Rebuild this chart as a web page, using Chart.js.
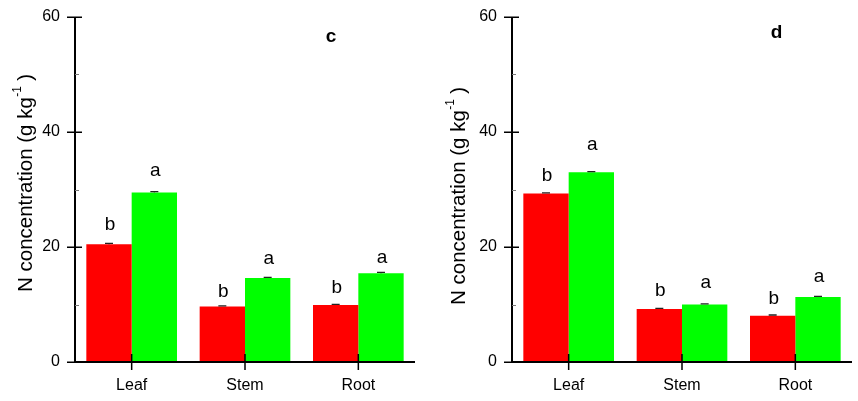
<!DOCTYPE html>
<html>
<head>
<meta charset="utf-8">
<script src="https://cdn.jsdelivr.net/npm/chart.js@4/dist/chart.umd.min.js"></script>
<style>
  html, body { margin: 0; padding: 0; background: #fff; }
  #wrap { position: relative; width: 858px; height: 401px; }
  canvas { position: absolute; top: 0; }
  #panelC { left: 0; }
  #panelD { left: 429px; }
</style>
</head>
<body>
<div id="wrap">
  <canvas id="panelC" width="429" height="401"></canvas>
  <canvas id="panelD" width="429" height="401"></canvas>
</div>
<script>
// Plant organs on the category axis
const categories = ['Leaf', 'Stem', 'Root'];
const yTickValues = [0, 20, 40, 60];
const yMinorValues = [10, 30, 50];

// Panel c: N concentration (g kg-1)
const cRed = [20.5, 9.65, 9.9];
const cGreen = [29.5, 14.6, 15.45];
const cRedErr = [0.12, 0.12, 0.12];
const cGreenErr = [0.12, 0.12, 0.12];
const cRedLetters = ['b', 'b', 'b'];
const cGreenLetters = ['a', 'a', 'a'];
const cRedLetterAt = [23.8, 12.2, 12.9];
const cGreenLetterAt = [33.2, 17.9, 18.2];

// Panel d: N concentration (g kg-1)
const dRed = [29.3, 9.2, 8.05];
const dGreen = [33.0, 10.0, 11.3];
const dRedErr = [0.12, 0.12, 0.12];
const dGreenErr = [0.12, 0.12, 0.12];
const dRedLetters = ['b', 'b', 'b'];
const dGreenLetters = ['a', 'a', 'a'];
const dRedLetterAt = [32.4, 12.4, 11.0];
const dGreenLetterAt = [37.8, 13.7, 14.8];

const FONT = '"Liberation Sans", Arial, sans-serif';

// Axis frame, crossing ticks, error caps, significance letters, titles
const panelDecor = {
  id: 'panelDecor',
  afterDatasetsDraw(chart, args, opts) {
    const ctx = chart.ctx;
    const { left, right, top, bottom } = chart.chartArea;
    const xs = chart.scales.x, ys = chart.scales.y;
    ctx.save();

    // error bars
    chart.data.datasets.forEach((ds, di) => {
      const meta = chart.getDatasetMeta(di);
      meta.data.forEach((bar, i) => {
        const v = ds.data[i], e = ds.errors[i];
        const yHi = ys.getPixelForValue(v + e);
        const yV = ys.getPixelForValue(v);
        ctx.strokeStyle = '#222';
        ctx.lineWidth = 1.3;
        ctx.beginPath();
        ctx.moveTo(bar.x, yV);
        ctx.lineTo(bar.x, yHi);
        ctx.moveTo(bar.x - 4, yHi);
        ctx.lineTo(bar.x + 4, yHi);
        ctx.stroke();
      });
    });

    // significance letters
    ctx.fillStyle = '#000';
    ctx.font = '19px ' + FONT;
    ctx.textAlign = 'center';
    ctx.textBaseline = 'middle';
    chart.data.datasets.forEach((ds, di) => {
      const meta = chart.getDatasetMeta(di);
      meta.data.forEach((bar, i) => {
        ctx.fillText(ds.letters[i], bar.x + 1, ys.getPixelForValue(ds.letterAt[i]));
      });
    });

    // axis lines
    ctx.strokeStyle = '#000';
    ctx.lineWidth = 2;
    ctx.beginPath();
    ctx.moveTo(left, top);
    ctx.lineTo(left, bottom + 1);
    ctx.moveTo(left - 1, bottom);
    ctx.lineTo(right, bottom);
    ctx.stroke();

    // major y ticks crossing the axis
    ctx.lineWidth = 1.5;
    ctx.beginPath();
    yTickValues.forEach(v => {
      const p = Math.round(ys.getPixelForValue(v)) + 0.25;
      ctx.moveTo(left - 8, p);
      ctx.lineTo(left + 7, p);
    });
    ctx.stroke();

    // minor y ticks inside
    ctx.strokeStyle = '#777';
    ctx.lineWidth = 1;
    ctx.beginPath();
    yMinorValues.forEach(v => {
      const p = Math.round(ys.getPixelForValue(v)) + 0.5;
      ctx.moveTo(left, p);
      ctx.lineTo(left + 4, p);
    });
    ctx.stroke();

    // category ticks crossing the x axis
    ctx.strokeStyle = '#000';
    ctx.lineWidth = 1.5;
    ctx.beginPath();
    categories.forEach((c, i) => {
      const p = xs.getPixelForValue(i);
      ctx.moveTo(p, bottom - 8);
      ctx.lineTo(p, bottom + 8);
    });
    ctx.stroke();

    // panel letter
    ctx.fillStyle = '#000';
    ctx.font = 'bold 19px ' + FONT;
    ctx.textAlign = 'center';
    ctx.textBaseline = 'middle';
    ctx.fillText(opts.panel, left + (right - left) * opts.panelX, top + (bottom - top) * opts.panelY);

    // y-axis title with superscript
    ctx.translate(opts.titleX, opts.titleY);
    ctx.rotate(-Math.PI / 2);
    const main = 'N concentration (g kg';
    const sup = '-1';
    const tail = ' )';
    ctx.font = '20.5px ' + FONT;
    const wMain = ctx.measureText(main).width;
    const wTail = ctx.measureText(tail).width;
    ctx.font = '12px ' + FONT;
    const wSup = ctx.measureText(sup).width;
    let x0 = -(wMain + wSup + wTail) / 2;
    ctx.textAlign = 'left';
    ctx.textBaseline = 'alphabetic';
    ctx.font = '20.5px ' + FONT;
    ctx.fillText(main, x0, 7);
    ctx.font = '12px ' + FONT;
    ctx.fillText(sup, x0 + wMain + 0.5, -4);
    ctx.font = '20.5px ' + FONT;
    ctx.fillText(tail, x0 + wMain + wSup, 7);

    ctx.restore();
  }
};

function makePanel(id, red, green, redErr, greenErr, redLetters, greenLetters, redAt, greenAt, cfg) {
  return new Chart(document.getElementById(id), {
    type: 'bar',
    data: {
      labels: categories,
      datasets: [
        { data: red, errors: redErr, letters: redLetters, letterAt: redAt,
          backgroundColor: '#ff0000', borderWidth: 0 },
        { data: green, errors: greenErr, letters: greenLetters, letterAt: greenAt,
          backgroundColor: '#00ff00', borderWidth: 0 }
      ]
    },
    options: {
      responsive: false,
      animation: false,
      events: [],
      layout: { padding: { left: 0, right: cfg.padRight, top: 17, bottom: 0 } },
      datasets: { bar: { categoryPercentage: 0.8, barPercentage: 1.0 } },
      plugins: {
        legend: { display: false },
        tooltip: { enabled: false },
        panelDecor: cfg.decor
      },
      scales: {
        x: {
          grid: { display: false, tickLength: 0 },
          border: { display: false },
          ticks: { color: '#000', font: { family: FONT, size: 16 }, padding: 14 },
          afterFit: s => { s.height = 39; }
        },
        y: {
          min: 0, max: 60,
          grid: { display: false, tickLength: 15 },
          border: { display: false },
          ticks: { stepSize: 20, color: '#000', font: { family: FONT, size: 16 }, padding: 0 },
          afterFit: s => { s.width = cfg.axisWidth; }
        }
      }
    },
    plugins: [panelDecor]
  });
}

makePanel('panelC', cRed, cGreen, cRedErr, cGreenErr, cRedLetters, cGreenLetters, cRedLetterAt, cGreenLetterAt,
  { padRight: 14, axisWidth: 75,
    decor: { panel: 'c', panelX: 0.753, panelY: 0.056, titleX: 25, titleY: 183 } });

makePanel('panelD', dRed, dGreen, dRedErr, dGreenErr, dRedLetters, dGreenLetters, dRedLetterAt, dGreenLetterAt,
  { padRight: 6, axisWidth: 83,
    decor: { panel: 'd', panelX: 0.778, panelY: 0.047, titleX: 29, titleY: 196 } });
</script>
</body>
</html>
